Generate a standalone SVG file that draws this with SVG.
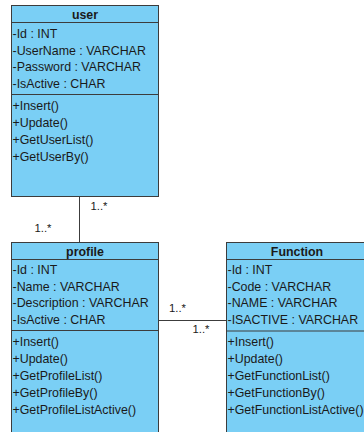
<svg xmlns="http://www.w3.org/2000/svg" width="364" height="432" viewBox="0 0 364 432">
<style>
.box{fill:#7acff5;stroke:#3c3c3c;stroke-width:1}
.sep{stroke:#3c3c3c;stroke-width:1}
.t{font-family:"Liberation Sans",Arial,sans-serif;font-size:12.4px;fill:#1a1a1a}
.h{font-family:"Liberation Sans",Arial,sans-serif;font-size:12.4px;font-weight:bold;fill:#1a1a1a;text-anchor:middle}
.lbl{font-family:"Liberation Sans",Arial,sans-serif;font-size:11.3px;fill:#1a1a1a}
.con{stroke:#3c3c3c;stroke-width:1;fill:none}
</style>
<rect width="364" height="432" fill="#ffffff"/>
<g id="connectors">
<line class="con" x1="79.5" y1="196.5" x2="79.5" y2="242.5"/>
<line class="con" x1="158.5" y1="320.5" x2="226.5" y2="320.5"/>
<text class="lbl" x="90.5" y="210">1..*</text>
<text class="lbl" x="34.5" y="231.5">1..*</text>
<text class="lbl" x="169" y="311.5">1..*</text>
<text class="lbl" x="192.5" y="332.5">1..*</text>
</g>
<g id="user">
<rect class="box" x="11.5" y="5.5" width="147" height="191"/>
<line class="sep" x1="11.5" y1="22.5" x2="158.5" y2="22.5"/>
<line class="sep" x1="11.5" y1="94.5" x2="158.5" y2="94.5"/>
<text class="h" x="85" y="18.5">user</text>
<text class="t" x="12.5" y="38">-Id : INT</text>
<text class="t" x="12.5" y="54.5">-UserName : VARCHAR</text>
<text class="t" x="12.5" y="71">-Password : VARCHAR</text>
<text class="t" x="12.5" y="87.5">-IsActive : CHAR</text>
<text class="t" x="12.5" y="109.5">+Insert()</text>
<text class="t" x="12.5" y="126.5">+Update()</text>
<text class="t" x="12.5" y="143.5">+GetUserList()</text>
<text class="t" x="12.5" y="160.5">+GetUserBy()</text>
</g>
<g id="profile">
<rect class="box" x="11.5" y="242.5" width="147" height="200"/>
<line class="sep" x1="11.5" y1="259.5" x2="158.5" y2="259.5"/>
<line class="sep" x1="11.5" y1="330.5" x2="158.5" y2="330.5"/>
<text class="h" x="85" y="255.5">profile</text>
<text class="t" x="12.5" y="274">-Id : INT</text>
<text class="t" x="12.5" y="290.5">-Name : VARCHAR</text>
<text class="t" x="12.5" y="307">-Description : VARCHAR</text>
<text class="t" x="12.5" y="323.5">-IsActive : CHAR</text>
<text class="t" x="12.5" y="346">+Insert()</text>
<text class="t" x="12.5" y="363">+Update()</text>
<text class="t" x="12.5" y="380">+GetProfileList()</text>
<text class="t" x="12.5" y="397">+GetProfileBy()</text>
<text class="t" x="12.5" y="413.5">+GetProfileListActive()</text>
</g>
<g id="function">
<rect class="box" x="226.5" y="242.5" width="150" height="200"/>
<line class="sep" x1="226.5" y1="259.5" x2="376.5" y2="259.5"/>
<line class="sep" x1="226.5" y1="331" x2="376.5" y2="331"/>
<text class="h" x="297" y="255.5">Function</text>
<text class="t" x="227.5" y="274">-Id : INT</text>
<text class="t" x="227.5" y="290.5">-Code : VARCHAR</text>
<text class="t" x="227.5" y="307">-NAME : VARCHAR</text>
<text class="t" x="227.5" y="323.5">-ISACTIVE : VARCHAR</text>
<text class="t" x="227.5" y="346">+Insert()</text>
<text class="t" x="227.5" y="363">+Update()</text>
<text class="t" x="227.5" y="380">+GetFunctionList()</text>
<text class="t" x="227.5" y="397">+GetFunctionBy()</text>
<text class="t" x="227.5" y="413.5">+GetFunctionListActive()</text>
</g>
</svg>
